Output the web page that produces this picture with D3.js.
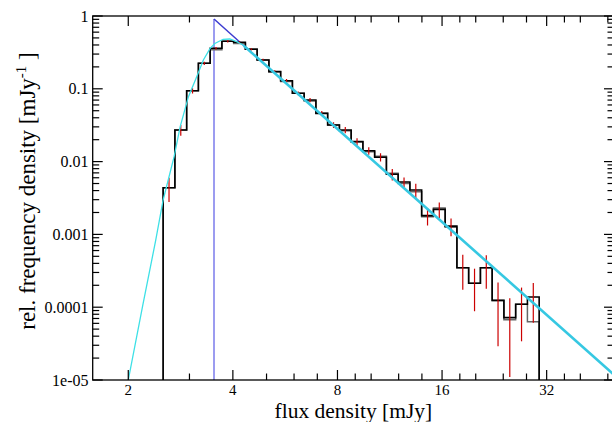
<!DOCTYPE html>
<html lang="en">
<head>
    <meta charset="UTF-8">
    <title>Flux density distribution</title>
    <script src="https://d3js.org/d3.v7.min.js"></script>
    <style>
        body {
            margin: 0;
            padding: 0;
            background: #fff;
            font-family: 'Liberation Serif', 'Times New Roman', serif;
        }
        .tick-label {
            font-size: 16px;
            fill: #000;
        }
        .x-tick-label {
            font-size: 15px;
        }
        .axis-title {
            font-size: 23px;
            fill: #000;
        }
        .x-title {
            font-size: 21.5px;
        }
    </style>
</head>
<body>
    <svg id="chart" width="612" height="422"></svg>

    <script>
        // Histogram bin edges (mJy), log-spaced
        const binEdges = [2.520, 2.724, 2.945, 3.183, 3.441, 3.720, 4.021, 4.346, 4.698, 5.079,
            5.490, 5.935, 6.415, 6.935, 7.497, 8.104, 8.760, 9.469, 10.236, 11.065,
            11.961, 12.930, 13.977, 15.109, 16.332, 17.655, 19.084, 20.630, 22.300, 24.106,
            26.059, 28.169, 30.450];

        // relative frequency density per bin (black histogram, with error bars)
        const blackHist = [4.38e-3, 0.0272, 0.094, 0.224, 0.36, 0.449, 0.435, 0.349, 0.249, 0.172,
            0.129, 0.0867, 0.0702, 0.046, 0.0318, 0.0272, 0.0188, 0.0141, 0.0115, 6.7e-3,
            5.25e-3, 4.07e-3, 1.81e-3, 2.21e-3, 1.30e-3, 3.49e-4, 2.13e-4, 3.49e-4, 1.24e-4, 7.2e-5,
            1.1e-4, 1.38e-4];

        // second (grey) histogram
        const greyHist = [4.38e-3, 0.0272, 0.094, 0.224, 0.345, 0.449, 0.42, 0.352, 0.249, 0.172,
            0.126, 0.0867, 0.068, 0.046, 0.0318, 0.0265, 0.0188, 0.0137, 0.0118, 6.9e-3,
            5.0e-3, 3.85e-3, 1.75e-3, 2.3e-3, 1.25e-3, 3.49e-4, 2.13e-4, 3.49e-4, 1.24e-4, 6.7e-5,
            1.1e-4, 6.3e-5];

        // 1-sigma errors of the black histogram
        const errSigma = [1.6e-3, 4.5e-3, 8e-3, 0.012, 0.0145, 0.0155, 0.0146, 0.0126, 0.0102, 0.0082,
            0.0068, 0.0054, 0.0047, 0.0036, 0.0029, 0.0026, 0.0021, 0.0017, 0.0015, 1.2e-3,
            8e-4, 9e-4, 4.9e-4, 5.3e-4, 3.6e-4, 1.75e-4, 1.25e-4, 1.7e-4, 9.5e-5, 6.1e-5,
            7.6e-5, 7.7e-5];

        // model curve (thin cyan)
        const modelFlux = [2.0, 2.2, 2.4, 2.52, 2.71, 2.82, 2.98, 3.15, 3.29, 3.44, 3.55, 3.75, 3.92, 4.10, 4.28, 4.45];
        const modelValue = [1.0e-5, 1.04e-4, 8.4e-4, 2.97e-3, 0.0117, 0.030, 0.078, 0.147, 0.249, 0.36, 0.42, 0.479, 0.483, 0.444, 0.40, 0.35];

        // power-law fit (thick cyan)
        const fitFlux = [4.3, 50];
        const fitValue = [0.39, 1.18e-5];

        // truncated power law (blue)
        const truncFlux = [3.53, 3.53, 4.4];
        const truncValue = [1e-5, 0.91, 0.355];

        const xMajorTicks = [2, 4, 8, 16, 32];
        const xMinorTicks = [3, 5, 6, 7, 9, 10, 12, 14, 18, 20, 24, 28, 36, 40, 48];
        const yMajorTicks = [1, 0.1, 0.01, 0.001, 0.0001, 1e-5];
        const yTickLabels = ["1", "0.1", "0.01", "0.001", "0.0001", "1e-05"];

        // Plot frame
        const frame = { left: 92.7, right: 614, top: 16, bottom: 380 };

        const svg = d3.select("#chart");

        const x = d3.scaleLog().base(2).domain([1.58, 50]).range([frame.left, frame.right]);
        const y = d3.scaleLog().domain([1e-5, 1]).range([frame.bottom, frame.top]);

        svg.append("clipPath").attr("id", "plot-clip")
            .append("rect")
            .attr("x", frame.left).attr("y", frame.top)
            .attr("width", frame.right - frame.left).attr("height", frame.bottom - frame.top);

        const plot = svg.append("g").attr("clip-path", "url(#plot-clip)");

        const line = d3.line().x(d => x(d[0])).y(d => y(d[1]));

        // step outline of a histogram
        function stepPoints(values) {
            const pts = [[binEdges[0], 1e-5]];
            values.forEach((v, i) => {
                pts.push([binEdges[i], v]);
                pts.push([binEdges[i + 1], v]);
            });
            pts.push([binEdges[binEdges.length - 1], 1e-5]);
            return pts;
        }

        // blue truncated power law
        plot.append("line")
            .attr("x1", x(truncFlux[0])).attr("y1", y(truncValue[0]))
            .attr("x2", x(truncFlux[1])).attr("y2", y(truncValue[1]))
            .attr("stroke", "#9c9cf0").attr("stroke-width", 2);
        plot.append("line")
            .attr("x1", x(truncFlux[1])).attr("y1", y(truncValue[1]))
            .attr("x2", x(truncFlux[2])).attr("y2", y(truncValue[2]))
            .attr("stroke", "#3c3cd0").attr("stroke-width", 1.5);

        // grey histogram
        plot.append("path")
            .attr("d", line(stepPoints(greyHist)))
            .attr("fill", "none")
            .attr("stroke", "#666")
            .attr("stroke-width", 1.5);

        // black histogram
        plot.append("path")
            .attr("d", line(stepPoints(blackHist)))
            .attr("fill", "none")
            .attr("stroke", "#000")
            .attr("stroke-width", 1.6);

        // error bars
        plot.selectAll(".err")
            .data(blackHist)
            .enter()
            .append("line")
            .attr("class", "err")
            .attr("x1", (d, i) => x(Math.sqrt(binEdges[i] * binEdges[i + 1])))
            .attr("x2", (d, i) => x(Math.sqrt(binEdges[i] * binEdges[i + 1])))
            .attr("y1", (d, i) => y(d + errSigma[i]))
            .attr("y2", (d, i) => y(Math.max(d - errSigma[i], 1e-6)))
            .attr("stroke", "#cc0000")
            .attr("stroke-width", 1.2);

        // model curve
        plot.append("path")
            .attr("d", line(modelFlux.map((f, i) => [f, modelValue[i]])))
            .attr("fill", "none")
            .attr("stroke", "#3ee0e6")
            .attr("stroke-width", 1.3);

        // power-law fit
        plot.append("path")
            .attr("d", line(fitFlux.map((f, i) => [f, fitValue[i]])))
            .attr("fill", "none")
            .attr("stroke", "#36c8e2")
            .attr("stroke-width", 2.6);

        // frame
        svg.append("rect")
            .attr("x", frame.left).attr("y", frame.top)
            .attr("width", frame.right - frame.left).attr("height", frame.bottom - frame.top)
            .attr("fill", "none")
            .attr("stroke", "#000")
            .attr("stroke-width", 1.3);

        const ticks = svg.append("g").attr("stroke", "#000").attr("stroke-width", 1.2);
        const majorLen = 10, minorLen = 6.5;

        // x ticks (bottom and top, pointing inward)
        xMajorTicks.concat(xMinorTicks).forEach(v => {
            const len = xMajorTicks.includes(v) ? majorLen : minorLen;
            ticks.append("line").attr("x1", x(v)).attr("x2", x(v))
                .attr("y1", frame.bottom).attr("y2", frame.bottom - len);
            ticks.append("line").attr("x1", x(v)).attr("x2", x(v))
                .attr("y1", frame.top).attr("y2", frame.top + len);
        });

        // y ticks (left and right)
        const yMinor = [];
        yMajorTicks.slice(1).forEach(d => {
            for (let k = 2; k <= 9; k++) yMinor.push(d * k);
        });
        yMajorTicks.concat(yMinor).forEach(v => {
            const len = yMajorTicks.includes(v) ? majorLen : minorLen;
            ticks.append("line").attr("x1", frame.left).attr("x2", frame.left + len)
                .attr("y1", y(v)).attr("y2", y(v));
            ticks.append("line").attr("x1", frame.right).attr("x2", frame.right - len)
                .attr("y1", y(v)).attr("y2", y(v));
        });

        // tick labels
        svg.selectAll(".xlab")
            .data(xMajorTicks)
            .enter()
            .append("text")
            .attr("class", "tick-label x-tick-label")
            .attr("x", d => x(d))
            .attr("y", 395.3)
            .attr("text-anchor", "middle")
            .text(d => d);

        svg.selectAll(".ylab")
            .data(yMajorTicks)
            .enter()
            .append("text")
            .attr("class", "tick-label")
            .attr("x", 88.5)
            .attr("y", d => y(d) + 5.5)
            .attr("text-anchor", "end")
            .text((d, i) => yTickLabels[i]);

        // axis titles
        svg.append("text")
            .attr("class", "axis-title x-title")
            .attr("x", (frame.left + frame.right) / 2)
            .attr("y", 417.8)
            .attr("text-anchor", "middle")
            .text("flux density [mJy]");

        const yTitle = svg.append("text")
            .attr("class", "axis-title")
            .attr("transform", "translate(35,191) rotate(-90)")
            .attr("text-anchor", "middle");
        yTitle.append("tspan").text("rel. frequency density [mJy");
        yTitle.append("tspan").attr("dy", -9).attr("font-size", "15px").text("-1");
        yTitle.append("tspan").attr("dy", 9).text(" ]");
    </script>
</body>
</html>
